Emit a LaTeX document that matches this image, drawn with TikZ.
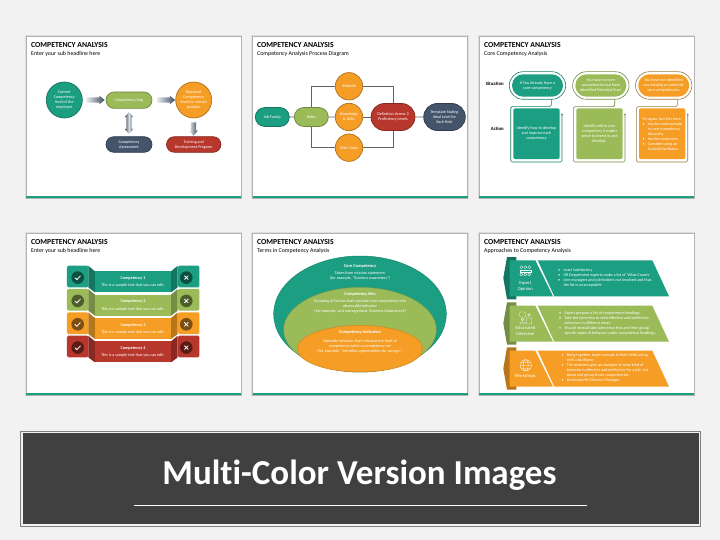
\documentclass[tikz,border=0pt]{standalone}
\usepackage{fontspec}
\setmainfont[Ligatures=NoCommon]{Carlito}
\usetikzlibrary{shapes.misc,shapes.geometric,shapes.arrows,arrows.meta}
\definecolor{pagegray}{HTML}{F2F2F2}
\definecolor{tealc}{HTML}{1B9E82}
\definecolor{greenc}{HTML}{9BBB59}
\definecolor{orangec}{HTML}{F59D24}
\definecolor{redc}{HTML}{B8372D}
\definecolor{navyc}{HTML}{44546A}
\definecolor{bannerc}{HTML}{404040}
\newcommand{\bodyfont}{\fontsize{4.1}{5}\selectfont}
\newcommand{\bulitem}{\makebox[5.3pt][l]{\textbullet}}
\newcommand{\bulind}{\hspace*{5.3pt}}
\tikzset{
  panel/.style={rectangle,fill=white,draw=black!30,line width=0.8pt,preaction={draw=black!13,line width=2.8pt},inner sep=0pt,minimum width=215pt,minimum height=162pt},
  strip/.style={fill=tealc},
  headline/.style={anchor=west,inner sep=0pt,font=\bfseries\fontsize{7.7}{9}\selectfont},
  subline/.style={anchor=west,inner sep=0pt,font=\fontsize{5.9}{7}\selectfont},
  body/.style={text=white,align=center,inner sep=0pt,font=\bodyfont},
  pill/.style={rounded rectangle,fill=#1,draw=#1!72!black,line width=0.7pt,text=white,align=center,inner sep=0pt,font=\bodyfont},
  disc/.style={circle,fill=#1,draw=#1!72!black,line width=0.7pt,text=white,align=center,inner sep=0pt,minimum size=36pt,font=\bodyfont},
  blockarrow/.style={single arrow,inner xsep=0pt,inner ysep=2.4pt,minimum height=18pt,single arrow head extend=1.7pt,single arrow tip angle=80,left color=navyc!12,right color=navyc!90!black},
  twoarrow/.style={double arrow,inner xsep=0pt,inner ysep=2.4pt,minimum height=22pt,double arrow head extend=1.7pt,double arrow tip angle=80,left color=navyc!90!black,right color=navyc!90!black,middle color=navyc!20},
  flowline/.style={draw=black!62,line width=0.7pt},
  ringpill/.style={rounded rectangle,draw=#1,line width=0.6pt,inner sep=0pt,minimum width=56.4pt,minimum height=27.6pt},
  sitpill/.style={rounded rectangle,fill=#1,text=white,align=center,inner sep=0pt,minimum width=51pt,minimum height=22.4pt,font=\bodyfont},
  actionbox/.style={rectangle,rounded corners=2pt,fill=#1,text=white,align=center,inner sep=0pt,minimum width=46.4pt,minimum height=50.7pt,font=\bodyfont},
  actionline/.style={draw=#1,line width=0.6pt,rounded corners=1.5pt,-{Stealth[length=2pt,width=2pt]}},
  tab/.style={rectangle,rounded corners=1.5pt,fill=#1,minimum width=21.5pt,minimum height=21.7pt,inner sep=0pt},
  fold/.style={fill=#1!75!black},
  band/.style={fill=#1},
  markdisc/.style={circle,fill=#1!50!black,minimum size=12.6pt,inner sep=0pt},
  markline/.style={draw=white,line width=0.8pt,line cap=round},
  oval/.style={ellipse,fill=#1,draw=#1!85!black,line width=0.5pt,inner sep=0pt},
  iconline/.style={draw=white,line width=0.3pt},
  ribbon/.style={fill=#1!75!black},
  sidelabel/.style={text=white,align=center,inner sep=0pt,font=\fontsize{4.6}{6}\selectfont},
  bullets/.style={text=white,align=left,anchor=west,inner sep=0pt,font=\bodyfont}
}
\begin{document}
\begin{tikzpicture}[x=1pt,y=-1pt]
\useasboundingbox (0,0) rectangle (720,540);
\fill [pagegray] (0,0) rectangle (720,540);

% Drawing panels
\node [panel] (panelA) at (133.5,117) {};
\node [panel] (panelB) at (360,117) {};
\node [panel] (panelC) at (586.5,117) {};
\node [panel] (panelD) at (133.5,314) {};
\node [panel] (panelE) at (360,314) {};
\node [panel] (panelF) at (586.5,314) {};
\fill [strip] (26,196.2) rectangle (241,198);
\fill [strip] (252.5,196.2) rectangle (467.5,198);
\fill [strip] (479,196.2) rectangle (694,198);
\fill [strip] (26,393.2) rectangle (241,395);
\fill [strip] (252.5,393.2) rectangle (467.5,395);
\fill [strip] (479,393.2) rectangle (694,395);

% Drawing headlines
\node [headline] (titleA) at (31,44.7) {COMPETENCY ANALYSIS};
\node [subline] (subA) at (31,54.2) {Enter your sub headline here};
\node [headline] (titleB) at (257,44.7) {COMPETENCY ANALYSIS};
\node [subline] (subB) at (257,54.2) {Competency Analysis Process Diagram};
\node [headline] (titleC) at (484,44.7) {COMPETENCY ANALYSIS};
\node [subline] (subC) at (484,54.2) {Core Competency Analysis};
\node [headline] (titleD) at (31,241.7) {COMPETENCY ANALYSIS};
\node [subline] (subD) at (31,251.2) {Enter your sub headline here};
\node [headline] (titleE) at (257,241.7) {COMPETENCY ANALYSIS};
\node [subline] (subE) at (257,251.2) {Terms in Competency Analysis};
\node [headline] (titleF) at (484,241.7) {COMPETENCY ANALYSIS};
\node [subline] (subF) at (484,251.2) {Approaches to Competency Analysis};

% Drawing first slide
\node [disc=tealc] (current) at (64.3,100) {Current\\Competency\\level of the\\employee};
\node [pill=greenc,minimum width=46pt,minimum height=16.4pt] (gap) at (129,100.2) {Competency Gap};
\node [disc=orangec] (required) at (193.7,100) {Required\\Competency\\level for certain\\position};
\node [pill=navyc,minimum width=46pt,minimum height=15.6pt] (assess) at (129,144.5) {Competency\\Assessment};
\node [pill=redc,minimum width=54.4pt,minimum height=15.6pt] (training) at (193.7,144.5) {Training and\\Development Program};
\node [blockarrow] (arrowA) at (94,100) {};
\node [blockarrow] (arrowB) at (164.5,100) {};
\node [twoarrow,rotate=90] (arrowC) at (129,123) {};
\node [blockarrow,rotate=-90,minimum height=13.5pt] (arrowD) at (193.5,127.5) {};

% Drawing second slide
\node [pill=tealc,minimum width=34pt,minimum height=19pt] (job) at (272.3,117) {Job Family};
\node [pill=greenc,minimum width=34pt,minimum height=19pt] (roles) at (311.3,117) {Roles};
\node [pill=redc,minimum width=44pt,minimum height=27pt] (levels) at (393,117) {Definition Across 3\\Proficiency Levels};
\node [pill=navyc,minimum width=41.6pt,minimum height=27pt] (template) at (444.5,117) {Template Stating\\Ideal Level for\\Each Role};
\node [disc=orangec,minimum size=27.4pt] (attitude) at (349,86.3) {Attitude};
\node [disc=orangec,minimum size=27.4pt] (knowledge) at (349,117) {Knowledge\\\& Skills};
\node [disc=orangec,minimum size=27.4pt] (tasks) at (349,147.7) {Main Tasks};
\draw [flowline] (job) -- (roles);
\draw [flowline] (roles) -- (knowledge);
\draw [flowline] (knowledge) -- (levels);
\draw [flowline] (levels) -- (template);
\draw [flowline] (roles.north) |- (attitude.west);
\draw [flowline] (roles.south) |- (tasks.west);
\draw [flowline] (attitude.east) -| (levels.north);
\draw [flowline] (tasks.east) -| (levels.south);

% Drawing third slide
\node [anchor=east,inner sep=0pt,font=\bfseries\fontsize{4.8}{6}\selectfont] (situation) at (504,84) {Situation};
\node [anchor=east,inner sep=0pt,font=\bfseries\fontsize{4.8}{6}\selectfont] (action) at (504,129.3) {Action};
\node [ringpill=tealc!80!black] (ringA) at (537.5,85.5) {};
\node [ringpill=greenc!75!black] (ringB) at (600.8,85.5) {};
\node [ringpill=orangec!55!black!80] (ringC) at (663.7,85.5) {};
\node [sitpill=tealc] (sitA) at (537.5,85.5) {If You Already Have a\\core competency};
\node [sitpill=greenc] (sitB) at (600.8,85.5) {You have no core\\competencies but have\\identified Potential Once};
\node [sitpill=orangec] (sitC) at (663.7,85.5) {You have not identified\\any existing or potential\\core competencies.};
\node [actionbox=tealc] (actA) at (536.5,133.7) {Identify how to develop\\and improve each\\competency};
\node [actionbox=greenc] (actB) at (599.5,133.7) {Identify which core\\competency it makes\\sense to invest in and\\develop.};
\node [actionbox=orangec,align=left] (actC) at (662.2,133.7) {Try again, but this time:\\\bulitem Involve more people\\\bulind in core competency\\\bulind discovery\\\bulitem Involve customers\\\bulitem Consider using an\\\bulind Outside Facilitator};
\coordinate (stemA) at (551.3,99.3);
\coordinate (stemB) at (614.7,99.3);
\coordinate (stemC) at (677.3,99.3);
\coordinate (endA) at (562,113.3);
\coordinate (endB) at (625,113.3);
\coordinate (endC) at (687.7,113.3);
\draw [actionline=tealc!80!black] (stemA) -- (551.3,106.7) -- (510.7,106.7) -- (510.7,162) -- (562,162) -- (endA);
\draw [actionline=greenc!75!black] (stemB) -- (614.7,106.7) -- (573.3,106.7) -- (573.3,162) -- (625,162) -- (endB);
\draw [actionline=orangec!55!black!80] (stemC) -- (677.3,106.7) -- (636.3,106.7) -- (636.3,162) -- (687.7,162) -- (endC);

% Drawing fourth slide
\node [tab=tealc] (tabA) at (77.7,276.5) {};
\node [tab=tealc] (tabB) at (188.7,276.5) {};
\fill [fold=tealc] (88.3,265.7) -- (95,271.4) -- (95,292.4) -- (88.3,287.4) -- cycle;
\fill [fold=tealc] (171,271.4) -- (177.7,265.7) -- (177.7,287.4) -- (171,292.4) -- cycle;
\fill [band=tealc] (95,271.4) rectangle (171,292.4);
\node [markdisc=tealc] (okA) at (77.7,277.6) {};
\node [markdisc=tealc] (noA) at (186.3,277.6) {};
\draw [markline] (75,277.8) -- (76.9,279.6) -- (80.4,275.9);
\draw [markline] (184.5,275.8) -- (188.1,279.4) (188.1,275.8) -- (184.5,279.4);
\node [body,font=\bfseries\fontsize{4.2}{5}\selectfont] (nameA) at (133,278.3) {Competency 1};
\node [body] (textA) at (133,285.7) {This is a sample text that you can edit.};

\node [tab=greenc] (tabC) at (77.7,299.8) {};
\node [tab=greenc] (tabD) at (188.7,299.8) {};
\fill [fold=greenc] (88.3,289) -- (95,294.7) -- (95,315.7) -- (88.3,310.7) -- cycle;
\fill [fold=greenc] (171,294.7) -- (177.7,289) -- (177.7,310.7) -- (171,315.7) -- cycle;
\fill [band=greenc] (95,294.7) rectangle (171,315.7);
\node [markdisc=greenc] (okB) at (77.7,300.9) {};
\node [markdisc=greenc] (noB) at (186.3,300.9) {};
\draw [markline] (75,301.1) -- (76.9,302.9) -- (80.4,299.2);
\draw [markline] (184.5,299.1) -- (188.1,302.7) (188.1,299.1) -- (184.5,302.7);
\node [body,font=\bfseries\fontsize{4.2}{5}\selectfont] (nameB) at (133,301.6) {Competency 2};
\node [body] (textB) at (133,309) {This is a sample text that you can edit.};

\node [tab=orangec] (tabE) at (77.7,323.2) {};
\node [tab=orangec] (tabF) at (188.7,323.2) {};
\fill [fold=orangec] (88.3,312.4) -- (95,318.1) -- (95,339.1) -- (88.3,334.1) -- cycle;
\fill [fold=orangec] (171,318.1) -- (177.7,312.4) -- (177.7,334.1) -- (171,339.1) -- cycle;
\fill [band=orangec] (95,318.1) rectangle (171,339.1);
\node [markdisc=orangec] (okC) at (77.7,324.3) {};
\node [markdisc=orangec] (noC) at (186.3,324.3) {};
\draw [markline] (75,324.5) -- (76.9,326.3) -- (80.4,322.6);
\draw [markline] (184.5,322.5) -- (188.1,326.1) (188.1,322.5) -- (184.5,326.1);
\node [body,font=\bfseries\fontsize{4.2}{5}\selectfont] (nameC) at (133,325) {Competency 3};
\node [body] (textC) at (133,332.4) {This is a sample text that you can edit.};

\node [tab=redc] (tabG) at (77.7,346.5) {};
\node [tab=redc] (tabH) at (188.7,346.5) {};
\fill [fold=redc] (88.3,335.7) -- (95,341.4) -- (95,362.4) -- (88.3,357.4) -- cycle;
\fill [fold=redc] (171,341.4) -- (177.7,335.7) -- (177.7,357.4) -- (171,362.4) -- cycle;
\fill [band=redc] (95,341.4) rectangle (171,362.4);
\node [markdisc=redc] (okD) at (77.7,347.6) {};
\node [markdisc=redc] (noD) at (186.3,347.6) {};
\draw [markline] (75,347.8) -- (76.9,349.6) -- (80.4,345.9);
\draw [markline] (184.5,345.8) -- (188.1,349.4) (188.1,345.8) -- (184.5,349.4);
\node [body,font=\bfseries\fontsize{4.2}{5}\selectfont] (nameD) at (133,348.3) {Competency 4};
\node [body] (textD) at (133,355.7) {This is a sample text that you can edit.};

% Drawing fifth slide
\node [oval=tealc,minimum width=172.6pt,minimum height=116pt] (outer) at (360,314) {};
\node [oval=greenc,minimum width=152.6pt,minimum height=84.6pt] (middle) at (360,329.7) {};
\node [oval=orangec,minimum width=125.4pt,minimum height=46.6pt] (inner) at (360,348.7) {};
\node [body,font=\bfseries\fontsize{4.4}{5}\selectfont] (coreName) at (360,266.7) {Core Competency};
\node [body] (coreText) at (360,275.5) {Taken from mission statement\\\textit{(for example, ``Business awareness'')}};
\node [body,font=\bfseries\fontsize{4.4}{5}\selectfont] (setsName) at (360,294.3) {Competency Sets};
\node [body] (setsText) at (360,306.3) {Grouping of factors that translate core competency into\\observable behavior\\\textit{( for example, cost management, Business Understand')}};
\node [body,font=\bfseries\fontsize{4.4}{5}\selectfont] (indName) at (360,332.7) {Competency Indicators};
\node [body] (indText) at (360,346.7) {Operable behavior that indicates the level of\\competency within a competency set\\\textit{(For Example, ``Identifies opportunities for savings'')}};

% Drawing sixth slide
\fill [ribbon=tealc] (507,257) -- (516.3,257) -- (516.3,299.3) -- (507,299.3) -- (503.3,278) -- cycle;
\fill [tealc] (509.7,260.3) -- (535.3,260.3) -- (553,296.3) -- (509.7,296.3) -- cycle;
\fill [tealc] (537.7,260.3) -- (652.3,260.3) -- (669,296.3) -- (554.3,296.3) -- cycle;
\fill [ribbon=greenc] (507,302.3) -- (516.3,302.3) -- (516.3,344.7) -- (507,344.7) -- (503.3,323.3) -- cycle;
\fill [greenc] (509.7,305.7) -- (535.3,305.7) -- (553,341.7) -- (509.7,341.7) -- cycle;
\fill [greenc] (537.7,305.7) -- (652.3,305.7) -- (669,341.7) -- (554.3,341.7) -- cycle;
\fill [ribbon=orangec] (507,347.3) -- (516.3,347.3) -- (516.3,389.7) -- (507,389.7) -- (503.3,368.7) -- cycle;
\fill [orangec] (509.7,350.7) -- (535.3,350.7) -- (553,386.7) -- (509.7,386.7) -- cycle;
\fill [orangec] (537.7,350.7) -- (652.3,350.7) -- (669,386.7) -- (554.3,386.7) -- cycle;

% Drawing icons
\draw [iconline] (525.3,270.7) +(-4,-3.5) circle (1.5) +(0,-3.5) circle (1.5) +(4,-3.5) circle (1.5);
\draw [iconline] (525.3,270.7) +(-5.5,-1) rectangle +(5.5,1.2);
\draw [iconline] (525.3,270.7) +(-4,3.7) circle (1.5) +(0,3.7) circle (1.5) +(4,3.7) circle (1.5);
\draw [iconline,rounded corners=0.8pt] (519.7,312) rectangle (525.5,317);
\draw [iconline] (522.5,319.5) circle (1.4) (529,315) circle (1.4) (520,324) -- (520,322.3) -- (525,322.3) -- (525,324) -- cycle (526.3,324) -- (526.3,318) -- (531.7,318) -- (531.7,324) -- cycle;
\draw [iconline] (525.7,365.3) circle (5.7) (525.7,365.3) ellipse (2.6 and 5.7) (520,365.3) -- (531.4,365.3) (520.8,362.3) -- (530.6,362.3) (520.8,368.3) -- (530.6,368.3);

% Drawing labels
\node [sidelabel] (expert) at (525.3,286) {Expert\\Opinion};
\node [sidelabel] (structured) at (525.3,331) {Structured\\Interview};
\node [sidelabel] (workshops) at (525.3,376) {Workshops};
\node [bullets] (listA) at (558,278) {\bulitem Least Satisfactory\\\bulitem HR Department experts make a list of `What Counts'\\\bulitem Line managers and job-holders not involved and thus\\\bulind the list is unacceptable};
\node [bullets] (listB) at (559,323.3) {\bulitem Expert prepare a list of competence headings.\\\bulitem Take the interview to seek effective and ineffective\\\bulind behaviors in different areas.\\\bulitem Should instead take interviews first and then group\\\bulind specific types of behavior under competence headings.};
\node [bullets] (listC) at (561.3,368.3) {\bulitem Bring together expert people in their fields along\\\bulind with a facilitator\\\bulitem The members give an example of what kind of\\\bulind behavior is effective and ineffective for a job. List\\\bulind down and group those competencies.\\\bulitem Divisional HR Director/Manager.};

% Drawing banner
\node [rectangle,draw=black!50,line width=0.9pt,fill=pagegray,minimum width=680pt,minimum height=95pt,inner sep=0pt] (bannerOut) at (360.5,478.5) {};
\node [rectangle,fill=bannerc,minimum width=676pt,minimum height=91pt,inner sep=0pt] (banner) at (360.5,478.5) {};
\node [inner sep=0pt,text=white,font=\bfseries\fontsize{35}{38}\selectfont] (bannerText) at (359.5,475) {Multi-Color Version Images};
\coordinate (ruleL) at (133.6,505);
\coordinate (ruleR) at (587,505);
\draw [white,line width=0.7pt] (ruleL) -- (ruleR);
\end{tikzpicture}
\end{document}
